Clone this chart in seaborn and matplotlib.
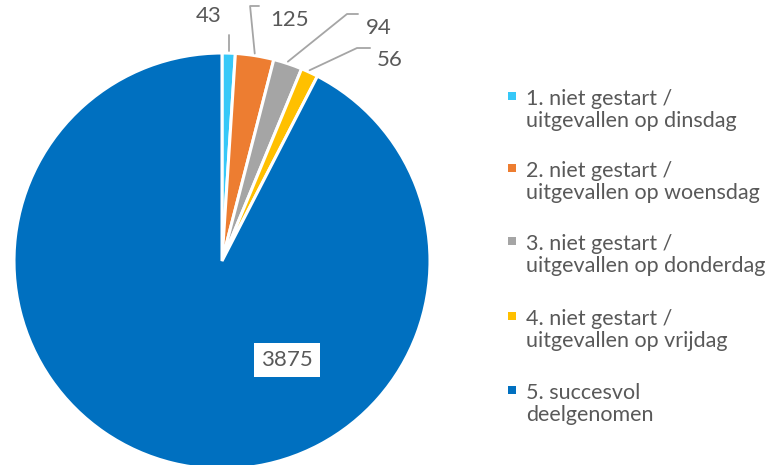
import matplotlib
matplotlib.use('Agg')
import matplotlib.pyplot as plt
import seaborn as sns
import numpy as np
from matplotlib.patches import Rectangle

labels = ['1. niet gestart /\nuitgevallen op dinsdag',
          '2. niet gestart /\nuitgevallen op woensdag',
          '3. niet gestart /\nuitgevallen op donderdag',
          '4. niet gestart /\nuitgevallen op vrijdag',
          '5. succesvol\ndeelgenomen']
counts = [43, 125, 94, 56, 3875]
colors = ['#36C8F8', '#ED7D31', '#A5A5A5', '#FFC000', '#0070C0']

sns.set_theme(style='white')
plt.rcParams['font.family'] = ['Lato', 'DejaVu Sans']
txt = '#595959'

fig = plt.figure(figsize=(7.8, 4.65), dpi=100)
ax = fig.add_axes([0, 0, 1, 1])
wedges, _ = ax.pie(counts, colors=colors, startangle=90, counterclock=False,
                   radius=1, wedgeprops=dict(edgecolor='white', linewidth=2.2))
# pixel-to-data mapping: center at (222, 261) px, radius 208 px
ax.set_xlim(-222 / 208, (780 - 222) / 208)
ax.set_ylim((261 - 465) / 208, 261 / 208)
ax.set_aspect('equal')
ax.axis('off')

# leader lines / labels for the small slices: (elbow, end, text pos)
lead = [
    (None, None, (-0.065, 1.18)),
    ((0.135, 1.226), (0.178, 1.226), (0.232, 1.16)),
    ((0.601, 1.1875), (0.654, 1.1875), (0.69, 1.12)),
    ((0.649, 1.024), (0.712, 1.024), (0.745, 0.966)),
]
for w, n, (elbow, end, tpos) in zip(wedges, counts, lead):
    ang = np.deg2rad((w.theta1 + w.theta2) / 2)
    x0, y0 = np.cos(ang), np.sin(ang)
    if elbow is None:
        ax.plot([x0, x0], [y0 + 0.01, 1.087], color='#A5A5A5', lw=1.3)
        ax.text(tpos[0], tpos[1], str(n), ha='center', va='center',
                fontsize=16, color=txt)
    else:
        ax.plot([x0, elbow[0], end[0]], [y0 + 0.01, elbow[1], end[1]],
                color='#A5A5A5', lw=1.3)
        ax.text(tpos[0], tpos[1], str(n), ha='left', va='center',
                fontsize=16, color=txt)

# big slice label
ax.text(0.3125, -0.476, str(counts[-1]), ha='center', va='center', fontsize=16,
        color=txt, bbox=dict(facecolor='white', edgecolor='none', pad=5))

# legend
y_top = [98, 170, 243, 318, 392]
for lab, c, yy in zip(labels, colors, y_top):
    fig.text(526 / 780, 1 - (yy + 12) / 465, lab, ha='left', va='center',
             fontsize=15.5, color=txt, linespacing=1.17)
    fig.patches.append(Rectangle((508 / 780, 1 - (yy + 2) / 465), 8 / 780, 8 / 465,
                                 transform=fig.transFigure, facecolor=c, edgecolor='none'))

fig.savefig('out.png', dpi=100)
